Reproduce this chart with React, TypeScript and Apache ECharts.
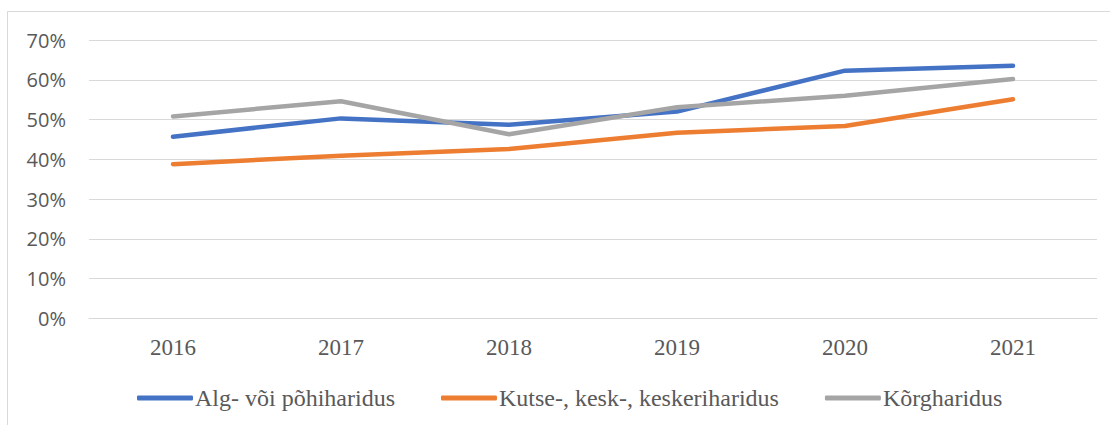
import React, { useEffect, useRef } from "react";
import * as echarts from "echarts";

const years = ["2016", "2017", "2018", "2019", "2020", "2021"];
const algVoiPohi = [45.7, 50.3, 48.7, 52.0, 62.3, 63.5];
const kutseKesk = [38.8, 40.9, 42.6, 46.7, 48.4, 55.1];
const korg = [50.8, 54.6, 46.3, 53.1, 56.0, 60.2];
const seriesNames = ["Alg- või põhiharidus", "Kutse-, kesk-, keskeriharidus", "Kõrgharidus"];
const colors = ["#4472C4", "#ED7D31", "#A5A5A5"];

export default function App() {
  const ref = useRef<HTMLDivElement>(null);
  useEffect(() => {
    if (!ref.current) return;
    const chart = echarts.init(ref.current, null, { renderer: "svg" });
    const values = [algVoiPohi, kutseKesk, korg];
    chart.setOption({
      animation: false,
      backgroundColor: "#ffffff",
      graphic: [
        {
          type: "polyline",
          shape: { points: [[7.5, 425], [7.5, 11.5], [1110, 11.5]] },
          style: { fill: "none", stroke: "#d9d9d9", lineWidth: 1 },
          silent: true,
        },
      ],
      grid: { left: 89, right: 13, top: 40, bottom: 106.5, containLabel: false },
      legend: {
        left: 137,
        top: 386,
        padding: 0,
        itemWidth: 56,
        itemHeight: 5,
        itemGap: 46,
        icon: "roundRect",
        data: seriesNames,
        textStyle: {
          fontFamily: "'Liberation Serif', 'Times New Roman', serif",
          fontSize: 24,
          color: "#595959",
          padding: [0, 0, 0, -3],
        },
      },
      xAxis: {
        type: "category",
        data: years,
        boundaryGap: true,
        axisTick: { show: false },
        axisLine: { lineStyle: { color: "#d9d9d9", width: 1 } },
        axisLabel: {
          margin: 17,
          fontFamily: "'Liberation Serif', 'Times New Roman', serif",
          fontSize: 23,
          color: "#595959",
        },
      },
      yAxis: {
        type: "value",
        min: 0,
        max: 70,
        interval: 10,
        axisLine: { show: false },
        axisTick: { show: false },
        splitLine: { lineStyle: { color: "#d9d9d9", width: 1 } },
        axisLabel: {
          margin: 23,
          formatter: "{value}%",
          fontFamily: "'Open Sans', 'Noto Sans', sans-serif",
          fontSize: 20,
          color: "#595959",
        },
      },
      series: values.map((v, i) => ({
        name: seriesNames[i],
        type: "line",
        data: v,
        symbol: "none",
        smooth: false,
        color: colors[i],
        lineStyle: { color: colors[i], width: 4.5, cap: "round", join: "round" },
        itemStyle: { color: colors[i] },
      })),
    });
    return () => chart.dispose();
  }, []);
  return (
    <div
      ref={ref}
      style={{ position: "fixed", left: 0, top: 0, width: 1110, height: 425 }}
    />
  );
}
